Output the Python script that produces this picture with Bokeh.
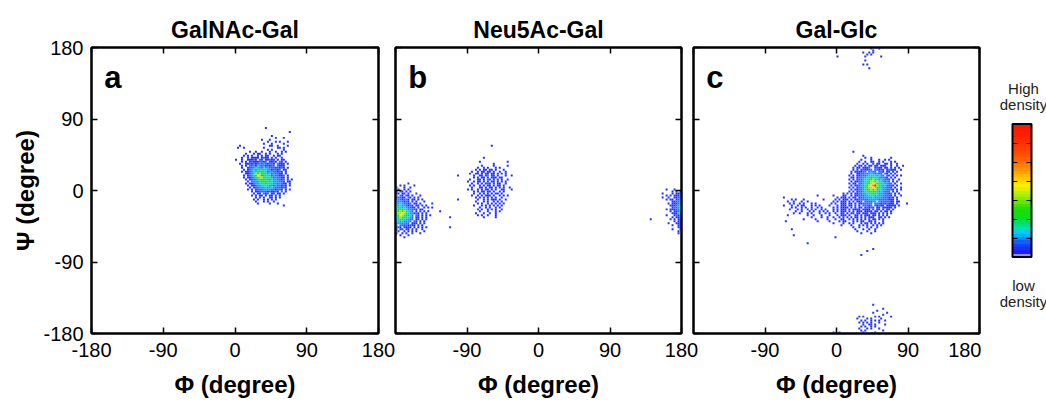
import numpy as np
from bokeh.plotting import figure
from bokeh.models import (ColumnDataSource, FixedTicker, LinearAxis, Range1d,
                          Label, ColorBar, LinearColorMapper)
from bokeh.layouts import row
from bokeh.embed import file_html
from bokeh.resources import INLINE

FONT = "Liberation Sans"
PLOT_H = 403
BORDER_TOP = 47
BORDER_BOTTOM = 70

PANEL_TITLES = ["GalNAc-Gal", "Neu5Ac-Gal", "Gal-Glc"]
PANEL_LETTERS = ["a", "b", "c"]
ANGLE_TICKS = [-180, -90, 0, 90, 180]
ANGLE_TICKS_NO_LEFT = [-90, 0, 90, 180]
ANGLE_TICK_TEXT = {-180: "-180", -90: "-90", 0: "0", 90: "90", 180: "180"}
X_LABEL = "Φ (degree)"
Y_LABEL = "Ψ (degree)"
CB_TOP_TEXT = ["High", "density"]
CB_BOTTOM_TEXT = ["low", "density"]
CB_TICKS = [1, 2, 3, 4, 5, 6]
BIN_DEG = 2.5

# density level -> colour (jet-like)
LEVEL_COLORS = {1: "#1e32ff", 2: "#2f62ff", 3: "#0a9cff", 4: "#00d4d0",
                5: "#14dc3c", 6: "#a0e800", 7: "#ffe000", 8: "#ff8c00", 9: "#ff2a00"}

CB_PALETTE = ["#8f8fff", "#1c1cff", "#1a2cff", "#1840ff", "#1060ff", "#0888ff",
              "#00b0ff", "#00d0f0", "#00e0c0", "#00e090", "#00e060", "#00e030",
              "#10e010", "#10e010", "#20e000", "#40e000", "#60e800", "#80ec00",
              "#a0f000", "#c0f000", "#e0f000", "#f8f000", "#ffe000", "#ffcc00",
              "#ffb800", "#ffa400", "#ff9000", "#ff8000", "#ff7000", "#ff6000",
              "#ff5400", "#ff4a00", "#ff4000", "#ff3800", "#ff3000", "#ff2800",
              "#ff2000", "#ff1c00", "#ff1800", "#ff1400"]

# ---- 2D histograms (2.5 deg bins), one char per bin, digit = density level ----
# panel a : GalNAc-Gal   (phi from 0, psi from 80 downward)
A_PHI0, A_PSI0 = 0.0, 80.0
A_ROWS = [
    "...............1..............",
    "..............................",
    "...........................1..",
    "..............................",
    "..................1...........",
    "....................1...1.....",
    ".............1...1............",
    "................1...1.1...1...",
    "..............1...1.....1.....",
    "..1..............11..1....1...",
    ".1..1.........1......11.1.....",
    "................1.1.....1.....",
    ".......1..1..1...1..1..1.1....",
    ".....1...1.11..1.1...1.1......",
    "....1.1.1..1.1.11..1.11.......",
    "...1..1.1111.1211.1.1..1......",
    "1..1..11121.21.11211.1.11.....",
    "...1.1.121112212.1121.21.1....",
    "..1..112121232321221.2111.1...",
    "...1.1.2231432312122.2111.....",
    "...1..1223443243322212121.1...",
    "....1.12343545443312212.11....",
    "...1.1123455454423322121.1....",
    ".....1123465655434232211.1....",
    "....1.1234576354452322112.1...",
    "....1.1123456654543232211.1...",
    ".....1.122354554534332212.1.1.",
    "......1.23334555454333221.11..",
    ".....1.1123344454443323211.1..",
    "......1.112334444332322121.1..",
    ".......1.12233343343222121....",
    "......1.1.12223333221221.1.1..",
    "........1.112222121121.2.1....",
    ".........1.11.212.11.11.1.....",
    "........1.1.11.1.11.1.1.......",
    "..........1.1.1..11.1.1.......",
    ".........1.1..1.1.1.1.........",
    "..........1...1.1..1..........",
    "...........1.....1...1........",
    "........................1.....",
]

# panel b : Neu5Ac-Gal
B_LEFT_PHI0, B_LEFT_PSI0 = -180.0, 10.0
B_LEFT_ROWS = [
    "......1.....................",
    "..1.1....1..................",
    "1...1..1....................",
    ".1..1.1.....................",
    "1.21.1.1....................",
    "11.11.1...1.................",
    "2.21.11.1...1...............",
    "12211.21.1.1................",
    "2321221.11.1.1..............",
    "3232121.1.1...1.............",
    "33432212.11.1.....1.........",
    "434332121.11.1.1............",
    "4543432211.1..1.1.1.........",
    "45554423221.11..............",
    "556564432.1.1.1.1.....1.....",
    "466765433121.1.1............",
    "557645342.21.1.1.1..........",
    "456554432.11.1.1...........1",
    "344543322.11.1.1............",
    "34342332.21.1.1.............",
    "2332322.111.1.1.............",
    "2.22121211.1.1..............",
    "121.1111.1.1.1.1...........1",
    "1.11.11.1.1..1..............",
    ".1..1.1.1.1...1.............",
    "1..1.1..1...1...............",
    "..1...1.....................",
    "....1.......................",
]
B_MID_PHI0, B_MID_PSI0 = -105.0, 57.5
B_MID_ROWS = [
    "..................1...........",
    "..............................",
    "..............................",
    "..............................",
    "..............................",
    "..............................",
    "..............1...............",
    "..............................",
    "............1.............1...",
    "...................1..........",
    ".............1.....1......1...",
    "...........1..1.1...1.1.......",
    "..........1.1.11.11.1...1.....",
    "........1..1.11.11.1..1..1....",
    ".......1..11.1.11.11.1.1.1....",
    ".1.......1..11.12.11.1...1..1.",
    ".........1.1.11.1.111.11......",
    ".......1...11.1.21.1.1.1..1...",
    "......1..1.11.1.1.11.1.1.1....",
    "........1..1.1.121.1.11..1....",
    ".......1.1..1.1.11.1.11.1.....",
    "........1...11.1.11.1.1.1..1..",
    "......1.1..1.1.11.1.1..11...1.",
    ".........1.1.11.11.1..1.1.....",
    ".........1..1.1.1.1.11.1......",
    "........1..1.1.111.1..1.1.1...",
    "..........1.1.1.1.1.1..1......",
    ".1.........1..1.1.111.1..1....",
    "..........1...1.1..1.1.1......",
    "...........1.1..1.1.1.1.1.....",
    ".........1...1.1.1.1.1.1......",
    "............1..1.1..1.1.......",
    "...........1.1..1.1.1..1......",
    "............1...1...1.1.......",
    "..........1...1..1..1.........",
    "...........1.1..1...1.........",
    "..............1.....1.........",
]
B_RIGHT_PHI0, B_RIGHT_PSI0 = 140.0, 2.5
B_RIGHT_ROWS = [
    "........1...1...",
    "...........1.1.1",
    "......1....1.111",
    "........1.1.1112",
    "......1..1..1121",
    "........1.11.122",
    "...........11223",
    ".........1.11123",
    "..........111233",
    "...........12234",
    "........1.111223",
    "..........1.1123",
    "...........11142",
    "........1...1212",
    "...........1.112",
    "1.........1.1.11",
    "............1.11",
    ".........1...111",
    "...........1..11",
    "..............11",
    "...........1...1",
    "..............1.",
    "..............1.",
]

# panel c : Gal-Glc   main region split as  phi -70..10 | phi 10..90
C_MAIN_PHI0, C_MAIN_PSI0 = -70.0, 52.5
C_MAIN_ROWS = [
    "|",
    "|....1",
    "|",
    "|.........1",
    "|..........1..1.........1",
    "|........1....1...1..1.1",
    "|.......1..1..11..1.1...1.1",
    "|......1..1.1..1.11..11.1..1",
    "|.....1.11.1.11.11.111..1..1..1",
    "|....1.11.1112..1211.11.1.1.1",
    "|....1.1.121122.22121.12111..1",
    "|...1.111122.2322.221.11.1.1",
    "|...1..1122323432322.21.1.1",
    "|..1.1.11222344443432.21.1.1.1",
    "|...11.1223345354432321.1.1",
    "|..1.1.12234455654343221.1..1",
    "|...1.112234456656443232.1.1",
    "|..1.11.22345567654543322.1..1",
    "|...1.11233456789654342221.1",
    "|..1.1.122345667655433221.1..1",
    "|...1.11223455656544332221.1.1",
    "|..1.1.12234454554343222.1.1",
    "...............................1|.1.1.1122334445443332212.1.1",
    "..................1.......1....1|1..1.1122233444343332221.1..1",
    ".1..........................1.11|1.1.11.122333343333222121.1",
    ".....1.1...1.........1.....1.1.1|11.1.11222223333322222111.1",
    "...1..1...1..1............1.1.11|1.1.1.112.222233.32222211.11",
    "....1.1..1.1...1.1.......1.1..11|1.11.1.1122222.2221212111.1....1",
    ".1...1..1.11...1.1.1....1...1.11|1.11.1.1.22212.21211.11111.1",
    ".....1.1..1.1..1..1.1.....1.1.11|11.1.1.11.12121.11.11111.1",
    "....1...1.1..1.1.1..1.1...1.1.11|1.1.1111.1111.1.11.1.11.1",
    ".......1..1...1.1..1.1.1..1.1.11|1.1.1.111.1111.11.1.11.1",
    "......1..1...1.1...1..1.1..1..11|.1.11.11.111.111.1.1.1.1",
    "...1.........1..1...1...1...1.11|1.1..11.1.111.11.1.1.1",
    "...............1....1..1..1..1.1|.1.1.11.1.1.111..11.1.1",
    "...........1.....1.....1...1..11|..1.1.1.1.1.1.11.1.1",
    "..1...............1.....1....1.1|1...1.1.11..11.1...1",
    "..........................1....1|..1.1...1.11.1.1.1.1",
    "..............................1.|...1...1.1.1..1.1.1",
    "|....1..1...1.1..1",
    ".....1|.....1...1..1..1",
    "|......1....1...1",
    "|........1....1",
    "......1|",
    "...........................1|",
    "|",
    "|",
    ".............1|",
    "|",
    "|",
    "|..............1",
    "|...........1",
    "|",
    "|........1",
]
C_TOP_PHI0, C_TOP_PSI0 = 0.0, 180.0
C_TOP_ROWS = [
    ".................1...1..",
    "..................1.....",
    ".............1..1.1.....",
    "...............1.1......",
    "1.............1.......1.",
    "........................",
    "..............1.........",
    "........................",
    ".............1.1........",
    "........................",
    "................1.......",
]
C_BOT_PHI0, C_BOT_PSI0 = -10.0, -140.0
C_BOT_ROWS = [
    "..................................",
    "......................1...........",
    "..................................",
    "...........................1......",
    "........................1.........",
    "......................1......1....",
    "...........................1......",
    "...............1.1.....1.1.....1..",
    "..............1....1.1....1.......",
    "................1.1..1.1.1..1.....",
    "...............1.1.1.1...1........",
    ".................1..11.1....1.....",
    "................1.1..1.1..........",
    "...............1...1.1...1........",
    "................1.1........1......",
    "..1..1...........1.....1..........",
]

PANEL_CLUSTERS = [
    [(A_PHI0, A_PSI0, A_ROWS)],
    [(B_LEFT_PHI0, B_LEFT_PSI0, B_LEFT_ROWS), (B_MID_PHI0, B_MID_PSI0, B_MID_ROWS),
     (B_RIGHT_PHI0, B_RIGHT_PSI0, B_RIGHT_ROWS)],
    [(C_MAIN_PHI0, C_MAIN_PSI0, C_MAIN_ROWS), (C_TOP_PHI0, C_TOP_PSI0, C_TOP_ROWS),
     (C_BOT_PHI0, C_BOT_PSI0, C_BOT_ROWS)],
]


def cells(phi0, psi0, rows):
    phi, psi, lev = [], [], []
    for r, line in enumerate(rows):
        if "|" in line:
            left, right = line.split("|")
            line = left.ljust(32, ".")[:32] + right
        for c, ch in enumerate(line):
            if ch.isdigit() and ch != "0":
                phi.append(phi0 + (c + 0.5) * BIN_DEG)
                psi.append(psi0 - (r + 0.5) * BIN_DEG)
                lev.append(int(ch))
    return phi, psi, lev


def style_axis(ax, show_labels, ticks=ANGLE_TICKS):
    ax.ticker = FixedTicker(ticks=ticks)
    ax.major_tick_in = 6
    ax.major_tick_out = 0
    ax.minor_tick_line_color = None
    ax.axis_line_width = 2
    ax.axis_line_color = "black"
    ax.major_tick_line_width = 1.5
    ax.major_tick_line_color = "black"
    ax.major_label_text_font = FONT
    if show_labels:
        ax.major_label_text_font_size = "20px"
        ax.major_label_text_color = "black"
        ax.major_label_overrides = {t: ANGLE_TICK_TEXT[t] for t in ticks}
    else:
        ax.major_label_text_font_size = "0px"
        ax.major_label_text_color = None
        ax.major_label_standoff = 0


def make_panel(idx, width, border_left, border_right, margin_left):
    p = figure(width=width, height=PLOT_H,
               x_range=Range1d(-180, 180), y_range=Range1d(-180, 180),
               output_backend="svg", toolbar_location=None,
               min_border_left=border_left, min_border_right=border_right,
               min_border_top=BORDER_TOP, min_border_bottom=BORDER_BOTTOM,
               title=PANEL_TITLES[idx])
    if margin_left:
        p.margin = (0, 0, 0, margin_left)
    p.border_fill_color = None
    p.background_fill_color = None
    p.outline_line_color = "black"
    p.outline_line_width = 2
    p.xgrid.visible = False
    p.ygrid.visible = False

    t = p.title
    t.align = "center"
    t.text_font = FONT
    t.text_font_size = "23px"
    t.text_font_style = "bold"
    t.text_color = "black"

    phi, psi, lev = [], [], []
    for phi0, psi0, rows in PANEL_CLUSTERS[idx]:
        a, b, c = cells(phi0, psi0, rows)
        phi += a; psi += b; lev += c
    order = np.argsort(lev, kind="stable")
    src = ColumnDataSource(dict(
        phi=[phi[i] for i in order], psi=[psi[i] for i in order],
        color=[LEVEL_COLORS[lev[i]] for i in order]))
    p.rect("phi", "psi", width=BIN_DEG, height=BIN_DEG, source=src,
           fill_color="color", line_color=None)

    xa = p.xaxis[0]
    ya = p.yaxis[0]
    style_axis(xa, True, ANGLE_TICKS if idx == 0 else ANGLE_TICKS_NO_LEFT)
    style_axis(ya, idx == 0)
    xa.major_label_standoff = 9
    xa.axis_label = X_LABEL
    xa.axis_label_text_font = FONT
    xa.axis_label_text_font_size = "24px"
    xa.axis_label_text_font_style = "bold"
    xa.axis_label_text_color = "black"
    xa.axis_label_standoff = 11
    if idx == 0:
        ya.major_label_standoff = 8
        ya.axis_label = Y_LABEL
        ya.axis_label_text_font = FONT
        ya.axis_label_text_font_size = "24px"
        ya.axis_label_text_font_style = "bold"
        ya.axis_label_text_color = "black"
        ya.axis_label_standoff = 1

    top = LinearAxis()
    style_axis(top, False)
    top.major_label_standoff = 4   # keeps the title a little above the frame
    right = LinearAxis()
    style_axis(right, False)
    p.add_layout(top, "above")
    p.add_layout(right, "right")

    p.add_layout(Label(x=-164, y=142, text=PANEL_LETTERS[idx], text_font=FONT,
                       text_font_size="31px", text_font_style="bold",
                       text_baseline="alphabetic", text_align="left",
                       text_color="black"))
    return p


pa = make_panel(0, 398, 91, 20, 0)
pb = make_panel(1, 316, 10, 20, -13)
pc = make_panel(2, 298, 10, 2, -18)

# colour-bar panel: same vertical borders as the plots (frames are aligned in a row);
# data coordinates of this panel equal its canvas pixels.
D_W = 65
pd = figure(width=D_W, height=PLOT_H,
            x_range=Range1d(0, D_W), y_range=Range1d(PLOT_H - BORDER_BOTTOM, BORDER_TOP),
            output_backend="svg", toolbar_location=None,
            min_border_left=0, min_border_right=0,
            min_border_top=BORDER_TOP, min_border_bottom=BORDER_BOTTOM,
            x_axis_location=None, y_axis_location=None)
pd.outline_line_color = None
pd.border_fill_color = None
pd.background_fill_color = None
pd.xgrid.visible = False
pd.ygrid.visible = False

mapper = LinearColorMapper(palette=CB_PALETTE, low=0, high=7)
cb = ColorBar(color_mapper=mapper, orientation="vertical", location="center_left",
              width=19, height=133, padding=0, margin=31,
              ticker=FixedTicker(ticks=CB_TICKS),
              major_label_text_font_size="0px", major_label_text_color=None,
              label_standoff=0,
              major_tick_in=19, major_tick_out=0, major_tick_line_color="black",
              major_tick_line_width=1, major_tick_line_dash="5 9",
              minor_tick_line_color=None,
              bar_line_color="black", bar_line_width=2,
              background_fill_color=None, border_line_color=None)
pd.add_layout(cb)

for text, y in zip(CB_TOP_TEXT + CB_BOTTOM_TEXT, [88, 104, 285, 301]):
    pd.add_layout(Label(x=42, y=y, text=text, text_font=FONT, text_font_size="15px",
                        text_align="center", text_baseline="alphabetic",
                        text_color="#222222"))

layout = row(pa, pb, pc, pd)
open("out.html", "w").write(file_html(layout, INLINE))
